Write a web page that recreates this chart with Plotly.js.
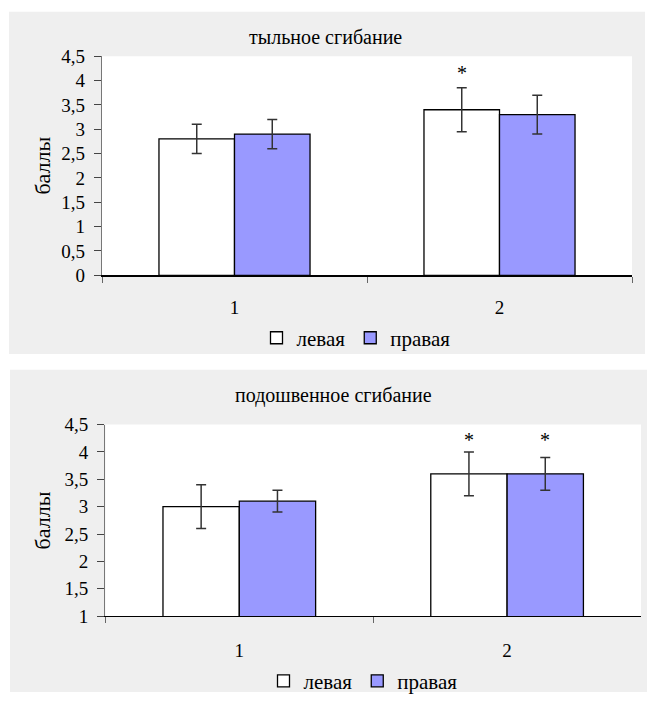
<!DOCTYPE html>
<html><head><meta charset="utf-8">
<script src="https://cdn.plot.ly/plotly-3.0.1.min.js"></script>
<style>body{margin:0;background:#fff}#chart{width:647px;height:702px}</style></head>
<body><div id="chart"></div>
<script>
// ---- data ----
const categories = ['1', '2'];
const seriesNames = ['левая', 'правая'];
const titleTop = 'тыльное сгибание';
const titleBottom = 'подошвенное сгибание';
const yTitle = 'баллы';

const topLeft = [2.8, 3.4];
const topLeftErr = [0.3, 0.45];
const topRight = [2.9, 3.3];
const topRightErr = [0.3, 0.4];
const topSigLeft = [false, true];
const topSigRight = [false, false];

const botLeft = [3.0, 3.6];
const botLeftErr = [0.4, 0.4];
const botRight = [3.1, 3.6];
const botRightErr = [0.2, 0.3];
const botSigLeft = [false, true];
const botSigRight = [false, true];

const topStarY = 4.15;
const botStarY = 4.22;

// ---- style / geometry ----
const W = 647, H = 702;
const FONT = 'Liberation Serif';
const GRAY = '#EFEFEF';
const BLUE = '#9999FF';
const px = v => v / W;
const py = v => 1 - v / H;
const BARGAP = 0.43;

const topX = [102, 632], topY = [57, 279.3];
const botX = [105.4, 641], botY = [430.7, 625];

function barTrace(x, y, err, name, color, xa, ya, legend, showlegend) {
  return {
    type: 'bar', x: x, y: y, name: name, xaxis: xa, yaxis: ya,
    legend: legend, showlegend: showlegend,
    marker: {color: color, line: {color: '#000', width: 1.3}},
    error_y: {type: 'data', array: err, visible: true, color: '#333', thickness: 1.5, width: 5},
    hoverinfo: 'skip'
  };
}

const data = [
  barTrace(categories, topLeft, topLeftErr, seriesNames[0], '#FFFFFF', 'x', 'y', 'legend', true),
  barTrace(categories, topRight, topRightErr, seriesNames[1], BLUE, 'x', 'y', 'legend', true),
  barTrace(categories, botLeft, botLeftErr, seriesNames[0], '#FFFFFF', 'x2', 'y2', 'legend2', true),
  barTrace(categories, botRight, botRightErr, seriesNames[1], BLUE, 'x2', 'y2', 'legend2', true)
];

// asterisks
const annotations = [];
function stars(sigL, sigR, yv, xa, ya, xr) {
  const catW = (xr[1] - xr[0]) / categories.length;
  const off = catW * (1 - BARGAP) / 4;
  categories.forEach((c, i) => {
    if (sigL[i]) annotations.push({x: i, y: yv, xref: xa, yref: ya, xshift: -off, text: '*', showarrow: false,
      font: {family: FONT, size: 20, color: '#000'}, yanchor: 'middle'});
    if (sigR[i]) annotations.push({x: i, y: yv, xref: xa, yref: ya, xshift: off, text: '*', showarrow: false,
      font: {family: FONT, size: 20, color: '#000'}, yanchor: 'middle'});
  });
}
stars(topSigLeft, topSigRight, topStarY, 'x', 'y', topX);
stars(botSigLeft, botSigRight, botStarY, 'x2', 'y2', botX);

annotations.push(
  {text: titleTop, xref: 'paper', yref: 'paper', x: px(325), y: py(38), showarrow: false,
   xanchor: 'center', yanchor: 'middle', font: {family: FONT, size: 20, color: '#000'}},
  {text: titleBottom, xref: 'paper', yref: 'paper', x: px(333), y: py(401), showarrow: false,
   xanchor: 'center', yanchor: 'middle', font: {family: FONT, size: 20, color: '#000'}},
  {text: yTitle, xref: 'paper', yref: 'paper', x: px(43), y: py(168), textangle: -90, showarrow: false,
   xanchor: 'center', yanchor: 'middle', font: {family: FONT, size: 22, color: '#000'}},
  {text: yTitle, xref: 'paper', yref: 'paper', x: px(42), y: py(528), textangle: -90, showarrow: false,
   xanchor: 'center', yanchor: 'middle', font: {family: FONT, size: 22, color: '#000'}}
);

const shapes = [
  {type: 'rect', xref: 'paper', yref: 'paper', x0: px(9), x1: px(645), y0: py(359), y1: py(12),
   fillcolor: GRAY, line: {width: 0}, layer: 'below'},
  {type: 'rect', xref: 'paper', yref: 'paper', x0: px(10), x1: px(647), y0: py(702), y1: py(375),
   fillcolor: GRAY, line: {width: 0}, layer: 'below'},
  {type: 'rect', xref: 'paper', yref: 'paper', x0: px(topX[0]), x1: px(topX[1]), y0: py(topY[1]), y1: py(topY[0]),
   fillcolor: '#FFFFFF', line: {width: 0}, layer: 'below'},
  {type: 'rect', xref: 'paper', yref: 'paper', x0: px(botX[0]), x1: px(botX[1]), y0: py(botY[1]), y1: py(botY[0]),
   fillcolor: '#FFFFFF', line: {width: 0}, layer: 'below'}
];

const tickFont = {family: FONT, size: 19, color: '#000'};
function xAxis(dom, anchor, standoff) {
  return {domain: dom, anchor: anchor, type: 'category', range: [-0.5, categories.length - 0.5], autorange: false,
    showline: true, linecolor: '#000', linewidth: 1.3,
    ticks: 'outside', tickson: 'boundaries', ticklen: 6, tickcolor: '#666', tickwidth: 1,
    showgrid: false, zeroline: false, tickfont: tickFont, ticklabelstandoff: standoff, fixedrange: true};
}
function yAxis(dom, anchor, range) {
  return {domain: dom, anchor: anchor, range: range, dtick: 0.5, tick0: 0, showline: true, linecolor: '#777',
    linewidth: 1.3, ticks: 'outside', ticklen: 7, tickcolor: '#444', tickwidth: 1, showgrid: false,
    zeroline: false, tickfont: tickFont, ticklabelstandoff: 5, fixedrange: true};
}

const legendFont = {family: FONT, size: 21, color: '#000'};

const layout = {
  width: W, height: H, margin: {l: 0, r: 0, t: 0, b: 0},
  paper_bgcolor: '#FFFFFF', plot_bgcolor: 'rgba(0,0,0,0)',
  separators: ', ', barmode: 'group', bargap: BARGAP, bargroupgap: 0,
  font: {family: FONT, color: '#000'},
  xaxis: xAxis([px(topX[0]), px(topX[1])], 'y', 15),
  yaxis: yAxis([py(topY[1]), py(topY[0])], 'x', [0, 4.5]),
  xaxis2: xAxis([px(botX[0]), px(botX[1])], 'y2', 17),
  yaxis2: yAxis([py(botY[1]), py(botY[0])], 'x2', [1, 4.5]),
  legend: {orientation: 'h', x: px(356), y: py(343), xanchor: 'center', yanchor: 'middle',
    bgcolor: 'rgba(0,0,0,0)', font: legendFont, itemwidth: 30, tracegroupgap: 0},
  legend2: {orientation: 'h', x: px(363), y: py(691), xanchor: 'center', yanchor: 'middle',
    bgcolor: 'rgba(0,0,0,0)', font: legendFont, itemwidth: 30, tracegroupgap: 0},
  shapes: shapes, annotations: annotations
};

Plotly.newPlot('chart', data, layout, {staticPlot: true, displayModeBar: false});
</script></body></html>
